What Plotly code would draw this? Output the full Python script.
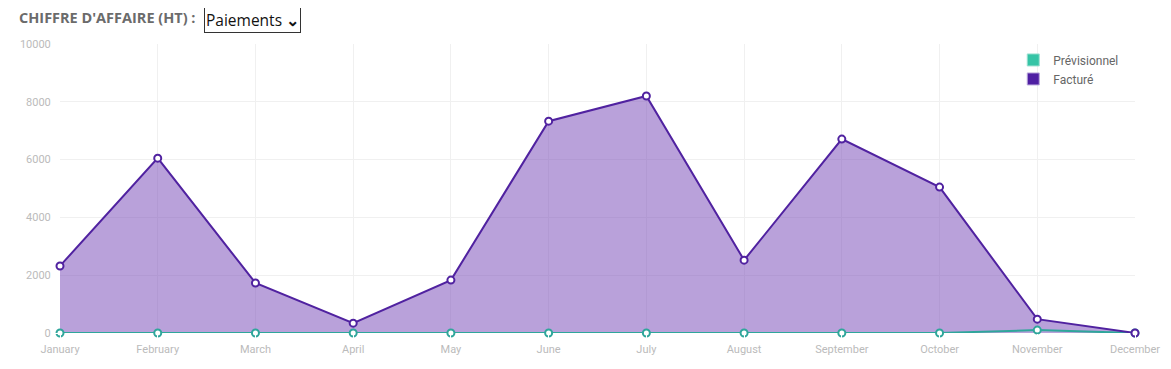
import plotly.graph_objects as go

months = ["January", "February", "March", "April", "May", "June", "July",
          "August", "September", "October", "November", "December"]
facture = [2320, 6050, 1730, 340, 1830, 7330, 8200, 2520, 6710, 5050, 480, 0]
previsionnel = [0, 0, 0, 0, 0, 0, 0, 0, 0, 0, 100, 0]
y_ticks = [0, 2000, 4000, 6000, 8000, 10000]

purple = "#5022a0"
teal = "#2fa69b"

fig = go.Figure()
# area fill of Facturé (drawn first, like the original)
fig.add_trace(go.Scatter(
    x=months, y=facture, mode="none", fill="tozeroy",
    fillcolor="rgba(127,84,188,0.55)", showlegend=False, hoverinfo="skip"))
fig.add_trace(go.Scatter(
    x=months, y=previsionnel, mode="lines+markers", name="Prévisionnel",
    line=dict(color=teal, width=2),
    marker=dict(size=7, color="white", line=dict(color=teal, width=2)),
    cliponaxis=False, showlegend=False))
fig.add_trace(go.Scatter(
    x=months, y=facture, mode="lines+markers", name="Facturé",
    line=dict(color=purple, width=2),
    marker=dict(size=7, color="white", line=dict(color=purple, width=2)),
    cliponaxis=False, showlegend=False))
# legend entries
fig.add_trace(go.Scatter(x=[None], y=[None], mode="markers", name="Prévisionnel",
                         marker=dict(symbol="square", size=12, color="#35c4a6",
                                     line=dict(color="#9be0d0", width=1))))
fig.add_trace(go.Scatter(x=[None], y=[None], mode="markers", name="Facturé",
                         marker=dict(symbol="square", size=12, color="#4f1fa3",
                                     line=dict(color="#b9a6dc", width=1))))

fig.update_layout(
    width=1171, height=369,
    margin=dict(l=52, r=44, t=36, b=44, autoexpand=False),
    paper_bgcolor="white", plot_bgcolor="white",
    font=dict(family="Roboto", color="#bbbbbb", size=11),
    legend=dict(x=0.99, y=0.995, xanchor="right", yanchor="top",
                font=dict(family="Roboto", size=12, color="#666666"),
                bgcolor="rgba(0,0,0,0)", itemsizing="trace", tracegroupgap=2),
    xaxis=dict(range=[0, 11], showgrid=True, gridcolor="#f0f0f0", zeroline=False,
               showline=False, ticks="outside", ticklen=6, tickcolor="white",
               tickfont=dict(size=11, color="#bbbbbb"), automargin=False,
               fixedrange=True),
    yaxis=dict(range=[0, 10000], tickvals=y_ticks, tickformat="d", showgrid=True,
               gridcolor="#f0f0f0", zeroline=False, showline=False,
               ticks="outside", ticklen=6, tickcolor="white", automargin=False,
               tickfont=dict(size=11, color="#bbbbbb")),
    annotations=[
        dict(text="<b>CHIFFRE D'AFFAIRE (HT) :</b>", xref="paper", yref="paper",
             x=-0.04, y=1.0934, xanchor="left", yanchor="middle",
             showarrow=False, font=dict(family="Open Sans", size=14.5, color="#6b6b6b")),
        dict(text="Paiements <b>⌄</b>", xref="paper", yref="paper",
             x=0.134, y=1.083, xanchor="left", yanchor="middle",
             showarrow=False, bgcolor="white", bordercolor="#333333", borderwidth=1,
             borderpad=1, font=dict(family="Open Sans", size=15.5, color="#111111")),
    ],
)
fig.write_html("out.html")
